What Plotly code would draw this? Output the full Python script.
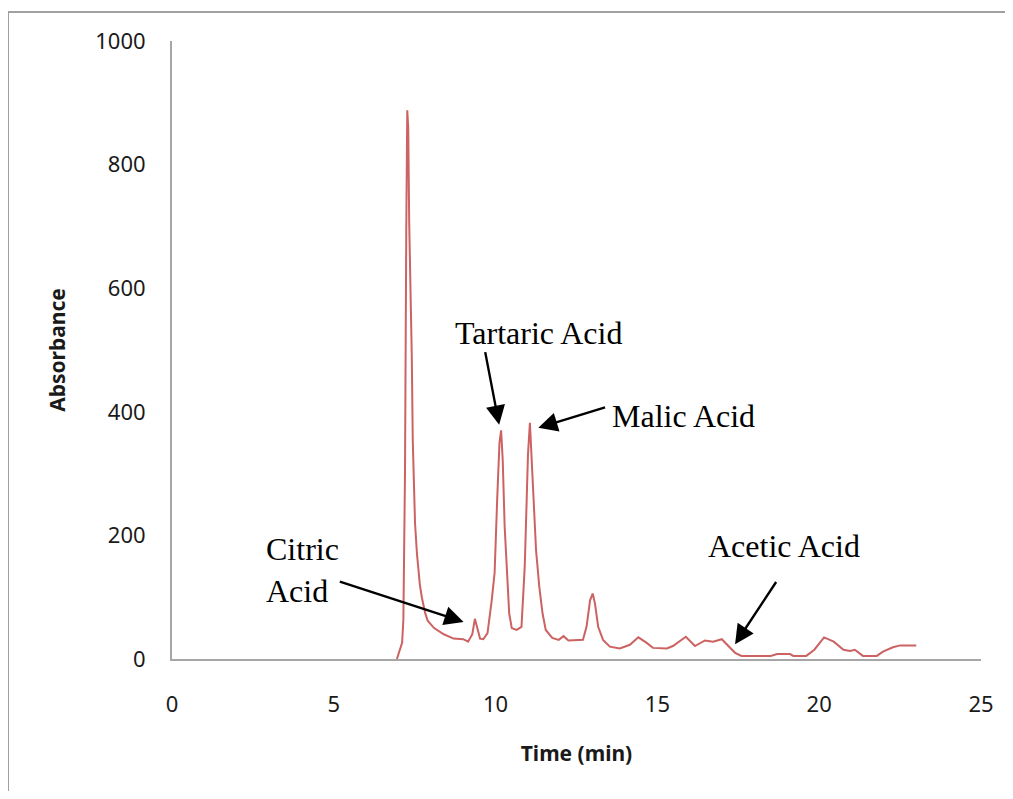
import plotly.graph_objects as go

# chromatogram trace
time_min = [6.95, 7.11, 7.15, 7.20, 7.24, 7.27, 7.30, 7.33, 7.41, 7.44, 7.51, 7.57,
            7.66, 7.72, 7.82, 7.90, 8.10, 8.40, 8.70, 9.00, 9.15, 9.28, 9.36, 9.45,
            9.52, 9.62, 9.75, 9.88, 9.97, 10.05, 10.12, 10.17, 10.22, 10.28, 10.35,
            10.42, 10.50, 10.65, 10.80, 10.90, 10.96, 11.00, 11.06, 11.12, 11.18,
            11.25, 11.35, 11.45, 11.55, 11.75, 11.95, 12.10, 12.25, 12.50, 12.70,
            12.81, 12.92, 13.00, 13.07, 13.17, 13.32, 13.53, 13.84, 14.15, 14.41,
            14.67, 14.86, 15.29, 15.48, 15.88, 16.16, 16.47, 16.72, 16.99, 17.19,
            17.40, 17.60, 18.50, 18.70, 19.10, 19.20, 19.60, 19.85, 20.15, 20.45,
            20.75, 20.95, 21.10, 21.35, 21.78, 21.97, 22.28, 22.50, 23.00]
absorbance = [0, 26, 63, 300, 700, 888, 860, 706, 489, 354, 220, 170,
              120, 100, 75, 62, 50, 40, 33, 32, 28, 40, 65, 45,
              33, 32, 42, 95, 140, 260, 350, 370, 322, 214, 133,
              74, 50, 47, 52, 149, 257, 330, 382, 311, 257,
              176, 117, 74, 47, 34, 31, 37, 30, 30, 31,
              52, 95, 106, 90, 52, 31, 20, 17, 23, 35,
              26, 18, 17, 21, 36, 21, 30, 28, 32, 21,
              10, 5, 5, 8, 8, 5, 5, 15, 35, 28,
              15, 13, 15, 5, 5, 12, 19, 22, 22]

# peak labels: text, text position, arrow tip, arrow tail
labels = ["Tartaric Acid", "Malic Acid", "Citric<br>Acid", "Acetic Acid"]
label_x = [11.34, 15.82, 2.84, 18.91]
label_y = [528, 393, 144, 183]
tip_x = [10.11, 11.32, 9.01, 17.40]
tip_y = [379, 374, 60, 24]
tail_x = [9.67, 13.43, 5.14, 18.70]
tail_y = [499, 408, 126, 127]

fig = go.Figure()
fig.add_trace(go.Scatter(x=time_min, y=absorbance, mode="lines",
                         line=dict(color="#CC6262", width=2),
                         showlegend=False))

annotations = []
for i, txt in enumerate(labels):
    annotations.append(dict(x=label_x[i], y=label_y[i], xref="x", yref="y",
                            text=txt, showarrow=False,
                            xanchor="left" if i == 2 else "center",
                            align="left",
                            font=dict(family="Liberation Serif", size=32, color="black")))
    annotations.append(dict(x=tip_x[i], y=tip_y[i], ax=tail_x[i], ay=tail_y[i],
                            xref="x", yref="y", axref="x", ayref="y",
                            text="", showarrow=True, arrowhead=2, arrowsize=1.6,
                            arrowwidth=2.4, arrowcolor="black", standoff=0))

# outer chart frame: only its top and left edges fall inside the picture,
# drawn as one open path
shapes = [dict(type="path", xref="paper", yref="paper",
               path="M -0.2027,-0.3 L -0.2027,1.047 L 1.2,1.047",
               fillcolor="rgba(0,0,0,0)",
               line=dict(color="#a0a0a0", width=2))]

# page has an 8px body margin; keep the figure inside the window (no scrollbars)
fig.update_layout(
    width=997, height=783,
    margin=dict(l=164, r=24, t=33, b=132),
    paper_bgcolor="white", plot_bgcolor="white",
    font=dict(family="Noto Sans", size=22, color="#1a1a1a"),
    annotations=annotations,
    shapes=shapes,
)
fig.update_xaxes(range=[0, 25], dtick=5, showgrid=False, zeroline=False,
                 showline=True, linecolor="#a6a6a6", linewidth=2,
                 ticks="", ticklabelstandoff=25,
                 title=dict(text="<b>Time (min)</b>", standoff=29,
                            font=dict(size=21)))
fig.update_yaxes(range=[0, 1000], dtick=200, showgrid=False, zeroline=False,
                 showline=True, linecolor="#a6a6a6", linewidth=2,
                 ticks="", ticklabelstandoff=20,
                 title=dict(text="<b>Absorbance</b>", standoff=24,
                            font=dict(size=21)))

fig.write_html("out.html")
